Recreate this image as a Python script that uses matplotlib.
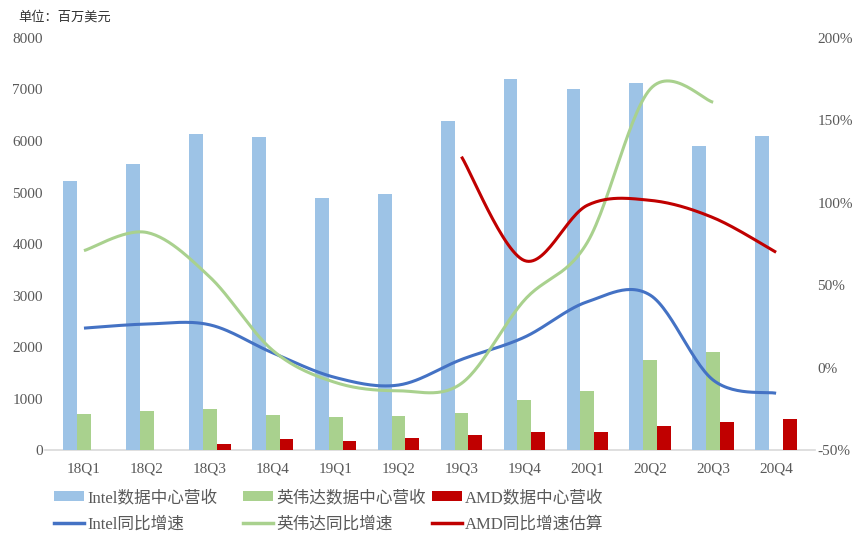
import numpy as np
import matplotlib
matplotlib.use('Agg')
import matplotlib.pyplot as plt
from matplotlib.patches import Patch
from matplotlib.lines import Line2D

plt.rcParams['font.family'] = ['Liberation Serif', 'Noto Sans CJK SC', 'DejaVu Sans']

quarters = ['18Q1', '18Q2', '18Q3', '18Q4', '19Q1', '19Q2',
            '19Q3', '19Q4', '20Q1', '20Q2', '20Q3', '20Q4']

# revenue, million USD (None = no bar)
intel_rev = [5230, 5550, 6140, 6070, 4900, 4980, 6390, 7200, 7000, 7120, 5910, 6100]
nvda_rev = [701, 760, 792, 679, 634, 655, 726, 968, 1141, 1752, 1900, None]
amd_rev = [None, None, 120, 220, 180, 240, 300, 360, 360, 470, 550, 610]

# yoy growth, %
intel_yoy = [24, 26.5, 26, 9, -6, -10.5, 5, 18.5, 40, 44, -7.5, -15.5]
nvda_yoy = [71, 82, 55, 10.5, -9, -14, -9.5, 41, 76, 169, 161, None]
amd_yoy = [None, None, None, None, None, None, 128, 65, 98.5, 101.5, 91, 70]

labels_bar = ['Intel数据中心营收', '英伟达数据中心营收', 'AMD数据中心营收']
labels_line = ['Intel同比增速', '英伟达同比增速', 'AMD同比增速估算']

c_bar = ['#9DC3E6', '#A9D18E', '#C00000']
c_line = ['#4472C4', '#A9D18E', '#C00000']
grey = '#595959'


# excel style smooth curve (catmull-rom bezier) through the points
def smooth(xs, ys, n=30):
    xs = np.asarray(xs, float)
    ys = np.asarray(ys, float)
    px, py = [], []
    k = len(xs)
    for i in range(k - 1):
        i0 = max(i - 1, 0)
        i3 = min(i + 2, k - 1)
        p0 = np.array([xs[i0], ys[i0]])
        p1 = np.array([xs[i], ys[i]])
        p2 = np.array([xs[i + 1], ys[i + 1]])
        p3 = np.array([xs[i3], ys[i3]])
        c1 = p1 + (p2 - p0) / 6.0
        c2 = p2 - (p3 - p1) / 6.0
        t = np.linspace(0, 1, n)[:, None]
        pts = ((1 - t) ** 3) * p1 + 3 * ((1 - t) ** 2) * t * c1 + 3 * (1 - t) * t ** 2 * c2 + t ** 3 * p2
        px.extend(pts[:, 0])
        py.extend(pts[:, 1])
    return np.array(px), np.array(py)


fig = plt.figure(figsize=(8.58, 5.34), dpi=100)
ax = fig.add_axes([0.0612, 0.157, 0.88, 0.772])
ax2 = ax.twinx()

x = np.arange(len(quarters))
w = 0.22
for j, series in enumerate([intel_rev, nvda_rev, amd_rev]):
    xs = [x[i] + (j - 1) * w for i, v in enumerate(series) if v is not None]
    vs = [v for v in series if v is not None]
    ax.bar(xs, vs, width=w, color=c_bar[j], zorder=2)

for j, series in enumerate([intel_yoy, nvda_yoy, amd_yoy]):
    xs = [x[i] for i, v in enumerate(series) if v is not None]
    vs = [v for v in series if v is not None]
    sx, sy = smooth(xs, vs)
    ax2.plot(sx, sy, color=c_line[j], lw=2.2, solid_capstyle='butt', zorder=3)

ax.set_xlim(-0.5, len(quarters) - 0.5)
ax.set_ylim(0, 8000)
ax.set_yticks(range(0, 8001, 1000))
ax2.set_ylim(-50, 200)
ax2.set_yticks(range(-50, 201, 50))
ax2.set_yticklabels(['%d%%' % v for v in range(-50, 201, 50)])
ax.set_xticks(x)
ax.set_xticklabels(quarters)

for a in (ax, ax2):
    for s in ['top', 'left', 'right', 'bottom']:
        a.spines[s].set_visible(False)
    a.tick_params(length=0, labelsize=11, colors=grey)

# category axis line, a bit wider than the plot area
ax.axhline(0, xmin=-0.01, xmax=1.01, color='#D9D9D9', lw=1.2, clip_on=False, zorder=1)
ax.tick_params(axis='y', pad=7)
ax.tick_params(axis='x', pad=9)
ax2.tick_params(axis='y', pad=7)

ax2.set_zorder(ax.get_zorder() + 1)
ax2.patch.set_visible(False)

fig.text(18 / 858, 1 - 17 / 534, '单位：百万美元', fontsize=9.5, color='#333333',
         family=['Noto Sans CJK SC'], va='center', ha='left')

# one legend per column, placed like the original
col_x = [54, 243, 432]
for j in range(3):
    handles = [Patch(facecolor=c_bar[j]), Line2D([], [], color=c_line[j], lw=2.5)]
    leg = fig.legend(handles, [labels_bar[j], labels_line[j]], loc='upper left',
                     bbox_to_anchor=(col_x[j] / 858, 1 - 490 / 534),
                     frameon=False, fontsize=12, handlelength=1.8, handleheight=0.55,
                     handletextpad=0.18, labelspacing=0.62, borderpad=0,
                     borderaxespad=0, labelcolor=grey)

fig.savefig('out.png', dpi=100)
